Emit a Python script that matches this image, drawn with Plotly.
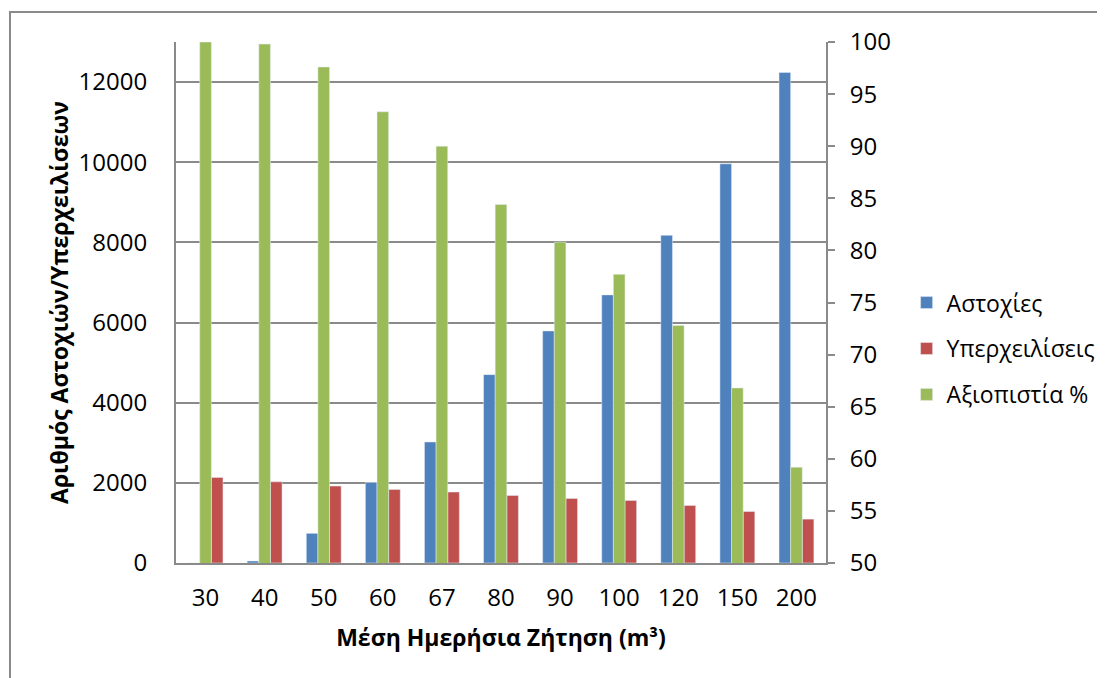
import plotly.graph_objects as go

categories = ["30", "40", "50", "60", "67", "80", "90", "100", "120", "150", "200"]
astoxies = [0, 50, 740, 2010, 3020, 4700, 5790, 6690, 8175, 9960, 12240]
yperxeiliseis = [2135, 2025, 1920, 1835, 1770, 1685, 1610, 1560, 1435, 1285, 1095]
axiopistia = [100.0, 99.8, 97.6, 93.3, 90.0, 84.4, 80.8, 77.7, 72.8, 66.8, 59.2]

y_ticks = [0, 2000, 4000, 6000, 8000, 10000, 12000]
y2_ticks = [50, 55, 60, 65, 70, 75, 80, 85, 90, 95, 100]

BLUE = "#4F81BD"
RED = "#C0504D"
GREEN = "#9BBB59"
GRID = "#8A8A8A"
FONT = "Open Sans"

fig = go.Figure()
fig.add_trace(go.Bar(name="Αστοχίες", x=categories, y=astoxies, marker_color=BLUE,
                     yaxis="y", offsetgroup="1", alignmentgroup="a",
                     legendrank=1, legendgroup="g1"))
fig.add_trace(go.Bar(name="Αξιοπιστία %", x=categories, y=axiopistia, marker_color=GREEN,
                     yaxis="y2", offsetgroup="2", alignmentgroup="a",
                     legendrank=3, legendgroup="g3"))
fig.add_trace(go.Bar(name="Υπερχειλίσεις", x=categories, y=yperxeiliseis, marker_color=RED,
                     yaxis="y", offsetgroup="3", alignmentgroup="a",
                     legendrank=2, legendgroup="g2"))

fig.update_layout(
    width=1105, height=678,
    margin=dict(l=168, r=287, t=34, b=123, autoexpand=False),
    paper_bgcolor="white", plot_bgcolor="white",
    font=dict(family=FONT, size=24, color="#000000"),
    barmode="group", bargap=0.41, bargroupgap=0,
    showlegend=True,
    legend=dict(x=1.124, xanchor="left", y=0.541, yanchor="top",
                font=dict(size=23), tracegroupgap=13, traceorder="grouped",
                bgcolor="rgba(0,0,0,0)"),
    xaxis=dict(type="category", showline=True, linecolor=GRID, linewidth=2,
               ticks="", ticklabelstandoff=12,
               title=dict(text="<b>Μέση Ημερήσια Ζήτηση (m³)</b>", font=dict(size=23), standoff=18)),
    yaxis=dict(range=[0, 13000], tickvals=y_ticks, tickformat="d", showgrid=True, gridcolor=GRID, gridwidth=2,
               showline=True, linecolor=GRID, linewidth=2, ticks="", zeroline=False,
               ticklabelstandoff=22,
               title=dict(text="<b>Αριθμός Αστοχιών/Υπερχειλίσεων</b>", font=dict(size=23), standoff=4)),
    yaxis2=dict(range=[50, 100], tickvals=y2_ticks, overlaying="y", side="right", showgrid=False,
                showline=True, linecolor=GRID, linewidth=2, ticks="outside", ticklen=7,
                tickcolor=GRID, tickwidth=2, zeroline=False, ticklabelstandoff=10),
    shapes=[dict(type="rect", xref="paper", yref="paper",
                 x0=-0.2554, x1=1.45, y0=-0.26, y1=1.0576,
                 line=dict(color=GRID, width=2), fillcolor="rgba(0,0,0,0)", layer="below")],
)

fig.write_html("out.html")
